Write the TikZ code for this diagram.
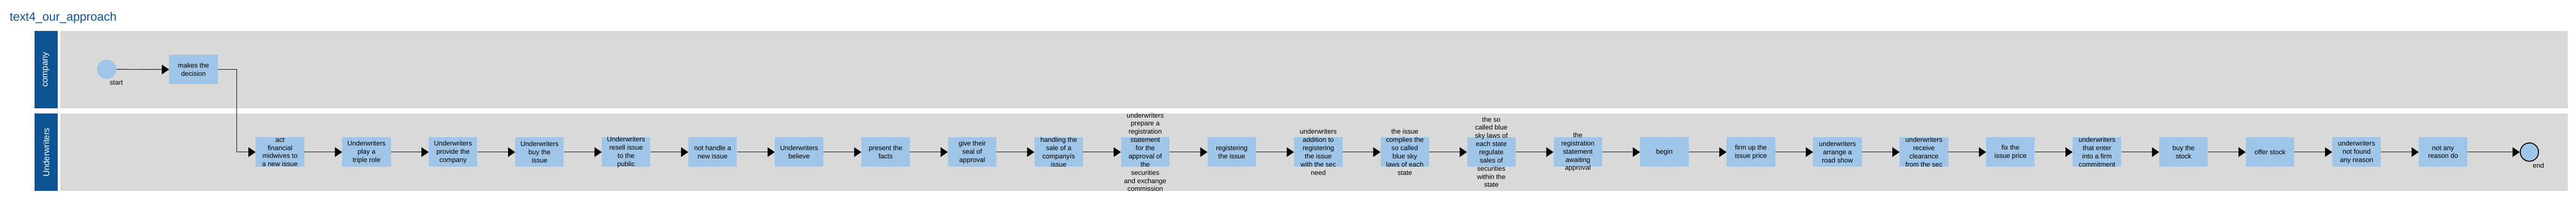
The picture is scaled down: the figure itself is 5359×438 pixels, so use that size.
\documentclass[tikz,border=0pt]{standalone}
\usepackage{fontspec}
\setmainfont{Liberation Sans}
\usetikzlibrary{arrows.meta}
\definecolor{laneblue}{RGB}{14,83,148}
\definecolor{lanegray}{RGB}{217,217,217}
\definecolor{taskblue}{RGB}{159,197,232}
\tikzset{
    task/.style={fill=taskblue, minimum width=101pt, minimum height=61pt, inner sep=0pt},
    tasktext/.style={align=center, font=\fontsize{14}{17}\selectfont, inner sep=0pt},
    smalltext/.style={font=\fontsize{14}{17}\selectfont, inner sep=0pt},
    lanetext/.style={rotate=90, text=white, font=\fontsize{18}{22}\selectfont},
    flow/.style={line width=1pt, -{Triangle[length=15pt, width=20pt]}}
}
\newcommand{\task}[3]{
    \node[task] (#1) at #2 {};
    \node[tasktext] (#1text) at (#1) {#3};
}

\begin{document}
\begin{tikzpicture}[x=1pt, y=-1pt]
        \useasboundingbox (0,0) rectangle (5359,438);
        \node[anchor=base west, text=laneblue, font=\fontsize{25}{30}\selectfont, inner sep=0pt] (title) at (20,43) {text4\_our\_approach};
        % lanes
        \fill[lanegray] (125,64) rectangle (5342,225);
        \fill[lanegray] (125,236) rectangle (5342,397);
        \fill[laneblue] (72,64) rectangle (120,225);
        \fill[laneblue] (72,236) rectangle (120,397);
        \node[lanetext] (company) at (96,144.5) {company};
        \node[lanetext] (underwriters) at (96,316.5) {Underwriters};
        % company
        \node[circle, fill=taskblue, minimum size=40pt, inner sep=0pt] (start) at (222,144) {};
        \node[smalltext] (starttext) at (242,172) {start};
        \task{decision}{(402.5,144.5)}{makes the\\decision}
        % underwriters
        \task{act}{(582.5,316)}{act\\financial\\midwives to\\a new issue}
        \task{triplerole}{(762.5,316)}{Underwriters\\play a\\triple role}
        \task{provide}{(942.5,316)}{Underwriters\\provide the\\company}
        \task{buyissue}{(1122.5,316)}{Underwriters\\buy the\\issue}
        \task{resell}{(1302.5,316)}{Underwriters\\resell issue\\to the\\public}
        \task{nothandle}{(1482.5,316)}{not handle a\\new issue}
        \task{believe}{(1662.5,316)}{Underwriters\\believe}
        \task{facts}{(1842.5,316)}{present the\\facts}
        \task{seal}{(2022.5,316)}{give their\\seal of\\approval}
        \task{handling}{(2202.5,316)}{handling the\\sale of a\\companyís\\issue}
        \task{prepare}{(2382.5,316)}{underwriters\\prepare a\\registration\\statement\\for the\\approval of\\the\\securities\\and exchange\\commission}
        \task{registering}{(2562.5,316)}{registering\\the issue}
        \task{addition}{(2742.5,316)}{underwriters\\addition to\\registering\\the issue\\with the sec\\need}
        \task{complies}{(2922.5,316)}{the issue\\complies the\\so called\\blue sky\\laws of each\\state}
        \task{bluesky}{(3102.5,316)}{the so\\called blue\\sky laws of\\each state\\regulate\\sales of\\securities\\within the\\state}
        \task{awaiting}{(3282.5,316)}{the\\registration\\statement\\awaiting\\approval}
        \task{begin}{(3462.5,316)}{begin}
        \task{firmup}{(3642.5,316)}{firm up the\\issue price}
        \task{roadshow}{(3822.5,316)}{underwriters\\arrange a\\road show}
        \task{clearance}{(4002.5,316)}{underwriters\\receive\\clearance\\from the sec}
        \task{fixprice}{(4182.5,316)}{fix the\\issue price}
        \task{commitment}{(4362.5,316)}{underwriters\\that enter\\into a firm\\commitment}
        \task{buystock}{(4542.5,316)}{buy the\\stock}
        \task{offer}{(4722.5,316)}{offer stock}
        \task{notfound}{(4902.5,316)}{underwriters\\not found\\any reason}
        \task{noreason}{(5082.5,316)}{not any\\reason do}
        \node[circle, fill=taskblue, draw=black, line width=2pt, minimum size=38pt, inner sep=0pt] (end) at (5262,316) {};
        \node[smalltext] (endtext) at (5281,344) {end};
        % flow
        \draw[flow] (start) -- (decision);
        \draw[flow] (decision.east) -- ++(39,0) |- (act.west);
        \draw[flow] (act) -- (triplerole);
        \draw[flow] (triplerole) -- (provide);
        \draw[flow] (provide) -- (buyissue);
        \draw[flow] (buyissue) -- (resell);
        \draw[flow] (resell) -- (nothandle);
        \draw[flow] (nothandle) -- (believe);
        \draw[flow] (believe) -- (facts);
        \draw[flow] (facts) -- (seal);
        \draw[flow] (seal) -- (handling);
        \draw[flow] (handling) -- (prepare);
        \draw[flow] (prepare) -- (registering);
        \draw[flow] (registering) -- (addition);
        \draw[flow] (addition) -- (complies);
        \draw[flow] (complies) -- (bluesky);
        \draw[flow] (bluesky) -- (awaiting);
        \draw[flow] (awaiting) -- (begin);
        \draw[flow] (begin) -- (firmup);
        \draw[flow] (firmup) -- (roadshow);
        \draw[flow] (roadshow) -- (clearance);
        \draw[flow] (clearance) -- (fixprice);
        \draw[flow] (fixprice) -- (commitment);
        \draw[flow] (commitment) -- (buystock);
        \draw[flow] (buystock) -- (offer);
        \draw[flow] (offer) -- (notfound);
        \draw[flow] (notfound) -- (noreason);
        \draw[flow] (noreason) -- (end);
    \end{tikzpicture}
\end{document}
